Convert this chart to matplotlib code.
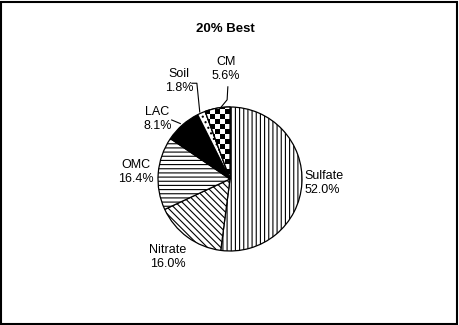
import numpy as np
import matplotlib
matplotlib.use("Agg")
import matplotlib.pyplot as plt
from matplotlib.patches import Rectangle, Wedge

# data (clockwise from 12 o'clock)
labels = ["Sulfate", "Nitrate", "OMC", "LAC", "Soil", "CM"]
values = [52.0, 16.0, 16.4, 8.1, 1.8, 5.6]
hatches = ["||||", "\\\\\\\\\\", "----", None, "...", None]
faces = ["white", "white", "white", "black", "white", "white"]

plt.rcParams["font.family"] = ["Liberation Sans", "DejaVu Sans"]
plt.rcParams["hatch.linewidth"] = 0.8

W, H = 460, 325
cx, cy, R = 230, 179, 72   # pie center / radius in pixels

fig = plt.figure(figsize=(W / 100, H / 100), dpi=100)
ax = fig.add_axes([0, 0, 1, 1])

wedges, _ = ax.pie(values, startangle=90, counterclock=False,
                   colors=faces, radius=1,
                   wedgeprops=dict(edgecolor="black", linewidth=0.9))
for w, h in zip(wedges, hatches):
    if h:
        w.set_hatch(h)

# checkerboard fill for CM, clipped to its wedge
cm = wedges[labels.index("CM")]
n = 40
board = (np.add.outer(np.arange(n), np.arange(n)) % 2).astype(float)
sq = 5 / R
im = ax.imshow(board, cmap="gray_r", extent=(-n * sq / 2, n * sq / 2, -n * sq / 2, n * sq / 2),
               interpolation="nearest", zorder=cm.get_zorder() + 0.1)
im.set_clip_path(cm)
ax.add_patch(Wedge((0, 0), 1, cm.theta1, cm.theta2, fill=False,
                   edgecolor="black", linewidth=0.9, zorder=5))

ax.set_xlim((0 - cx) / R, (W - cx) / R)
ax.set_ylim((cy - H) / R, cy / R)
ax.set_aspect("equal")
ax.axis("off")

fs = 9
txt = dict(fontsize=fs, va="center", linespacing=1.25)
ax.text(1.04, -0.06, "Sulfate\n52.0%", ha="left", **txt)
ax.text(-0.86, -1.08, "Nitrate\n16.0%", ha="center", **txt)
ax.text(-1.31, 0.10, "OMC\n16.4%", ha="center", **txt)
ax.text(-1.01, 0.83, "LAC\n8.1%", ha="center", **txt)
ax.text(-0.71, 1.36, "Soil\n1.8%", ha="center", **txt)
ax.text(-0.06, 1.53, "CM\n5.6%", ha="center", **txt)

# leader lines
ax.plot([-0.53, -0.46, -0.42], [1.33, 1.33, 0.93], color="black", lw=0.8)
ax.plot([-0.03, -0.04, -0.18], [1.28, 1.10, 0.93], color="black", lw=0.8)
ax.plot([-0.81, -0.69], [0.82, 0.77], color="black", lw=0.8)

fig.text(225 / W, 1 - 29 / H, "20% Best", ha="center", va="center",
         fontsize=9.5, fontweight="bold")

fig.add_artist(Rectangle((0.5 / W, 1.5 / H), 457 / W, 322 / H, transform=fig.transFigure,
                         fill=False, edgecolor="black", linewidth=1.5))

fig.savefig("out.png", dpi=100)
